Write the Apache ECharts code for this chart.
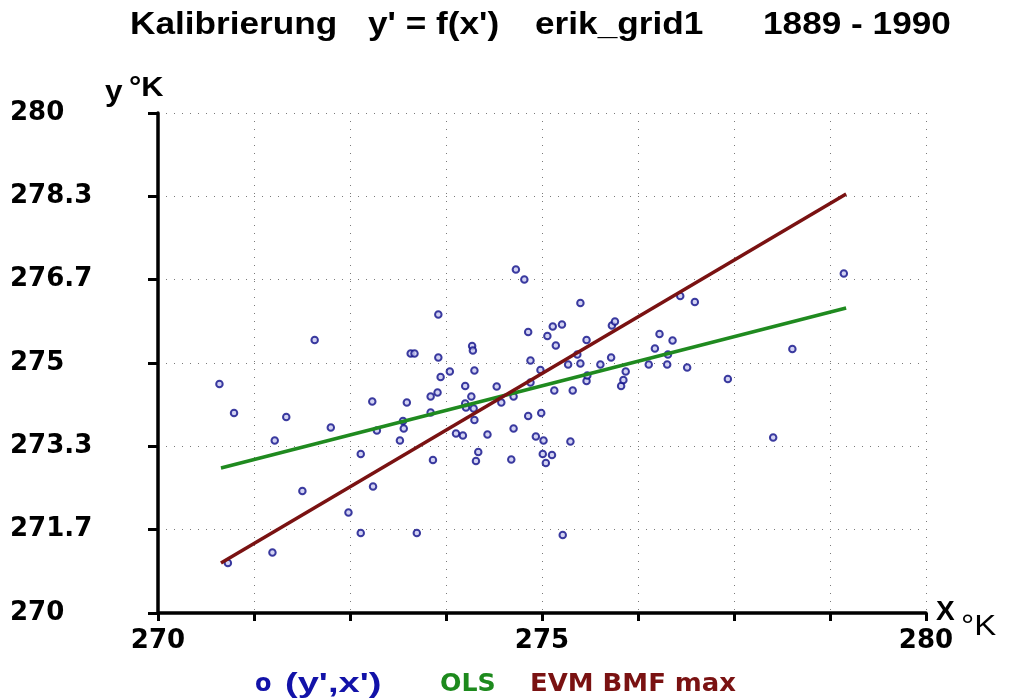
<!DOCTYPE html>
<html><head><meta charset="utf-8">
<script src="https://cdn.jsdelivr.net/npm/echarts@6/dist/echarts.min.js"></script>
<style>html,body{margin:0;padding:0;background:#fff}#c{width:1009px;height:700px}</style>
</head><body><div id="c"></div>
<script>
const titleParts = ["Kalibrierung", "y' = f(x')", "erik_grid1", "1889 - 1990"];
const xTickLabels = ['270', '275', '280'];
const yTickLabels = ['270', '271.7', '273.3', '275', '276.7', '278.3', '280'];
const legendLabels = ["o", "(y',x')", "OLS", "EVM BMF max"];

const pointX = [270.80,270.99,271.52,271.67,271.49,270.91,271.88,272.04,272.25,272.48,
  272.64,272.64,272.79,272.80,272.85,273.15,273.19,273.20,273.24,273.29,
  273.34,273.37,273.55,273.55,273.58,273.64,273.65,273.65,273.68,273.80,
  273.88,273.97,274.00,274.00,274.01,274.08,274.09,274.10,274.11,274.12,
  274.12,274.14,274.17,274.29,274.41,274.47,274.60,274.63,274.63,274.66,
  274.77,274.82,274.82,274.85,274.85,274.92,274.98,274.99,275.01,275.02,
  275.05,275.07,275.13,275.14,275.16,275.18,275.26,275.27,275.34,275.37,
  275.40,275.46,275.50,275.50,275.58,275.58,275.59,275.76,275.90,275.91,
  275.95,276.03,276.06,276.09,276.39,276.47,276.53,276.63,276.64,276.70,
  276.80,276.89,276.99,277.42,278.01,278.26,278.93];
const pointY = [274.58,274.00,273.45,273.92,271.21,271.00,272.44,275.46,273.71,272.01,
  271.60,273.18,274.23,272.53,273.65,273.45,273.84,273.69,274.21,275.19,
  275.19,271.60,274.33,274.01,273.06,274.41,275.97,275.11,274.72,274.83,
  273.59,273.55,274.54,274.19,274.11,274.33,275.34,275.25,274.09,274.85,
  273.86,273.04,273.22,273.57,274.53,274.21,273.07,274.33,273.69,276.87,
  276.67,275.62,273.94,275.05,274.61,273.53,274.86,274.00,273.18,273.45,
  273.00,275.54,273.16,275.73,274.45,275.35,275.77,271.56,274.97,273.43,
  274.45,275.17,276.20,274.99,275.46,274.64,274.75,274.97,275.11,275.75,
  275.83,274.54,274.66,274.83,274.97,275.29,275.58,274.97,275.17,275.45,
  276.34,274.91,276.22,274.68,273.51,275.28,276.79];
const olsX = [270.82, 278.96];
const olsY = [272.90, 276.10];
const evmX = [270.82, 278.96];
const evmY = [271.00, 278.38];

const zip = (a, b) => a.map((v, i) => [v, b[i]]);
const chart = echarts.init(document.getElementById('c'));
const heavy = 'DejaVu Sans';
const arial = "'Liberation Sans', Arial, sans-serif";
const grid = {type: [1, 7], color: '#7a7a7a', width: 1};
const txt = (x, y, text, fill, font, sx) => ({type: 'text', x: x, y: y, scaleX: sx || 1,
  style: {text: text, fill: fill, font: font}});

chart.setOption({
  animation: false,
  backgroundColor: '#fff',
  grid: {left: 158, right: 83, top: 113, bottom: 87, containLabel: false},
  xAxis: {
    type: 'value', min: 270, max: 280, interval: 1.25,
    axisLine: {show: true, onZero: false, lineStyle: {color: '#000', width: 3.5}},
    axisTick: {show: true, length: 8, lineStyle: {color: '#000', width: 3}},
    splitLine: {show: true, lineStyle: grid},
    axisLabel: {
      margin: 15, color: '#000', fontSize: 26, fontWeight: 'bold', fontFamily: heavy,
      showMinLabel: true, showMaxLabel: true,
      formatter: v => { const k = Math.round((v - 270) / 5); return Math.abs(v - 270 - 5 * k) < 1e-6 ? xTickLabels[k] : ''; }
    }
  },
  yAxis: {
    type: 'value', min: 270, max: 280, interval: 10 / 6,
    axisLine: {show: true, onZero: false, lineStyle: {color: '#000', width: 3.5}},
    axisTick: {show: true, length: 10, lineStyle: {color: '#000', width: 3}},
    splitLine: {show: true, lineStyle: grid},
    axisLabel: {
      margin: 148, align: 'left', color: '#000', fontSize: 26, fontWeight: 'bold', fontFamily: heavy,
      padding: [6, 0, 0, 0],
      showMinLabel: true, showMaxLabel: true,
      formatter: v => yTickLabels[Math.round((v - 270) / (10 / 6))]
    }
  },
  series: [
    {type: 'scatter', data: zip(pointX, pointY), symbol: 'circle', symbolSize: 6.5,
     itemStyle: {color: '#c8c8f0', borderColor: '#0e0e88', borderWidth: 2}, z: 3},
    {type: 'line', data: zip(olsX, olsY), showSymbol: false, symbol: 'none',
     lineStyle: {color: '#1f8a1f', width: 3.5}, z: 4},
    {type: 'line', data: zip(evmX, evmY), showSymbol: false, symbol: 'none',
     lineStyle: {color: '#7a1212', width: 3.5}, z: 5}
  ],
  graphic: [
    txt(130, 9, titleParts[0], '#000', 'bold 32px ' + arial, 1.1),
    txt(368, 9, titleParts[1], '#000', 'bold 32px ' + arial, 1.1),
    txt(535, 9, titleParts[2], '#000', 'bold 32px ' + arial, 1.1),
    txt(763, 9, titleParts[3], '#000', 'bold 32px ' + arial, 1.1),
    txt(105, 78, 'y', '#000', 'bold 30px ' + arial, 1.05),
    txt(129, 74, '°K', '#000', 'bold 28px ' + arial, 1.1),
    txt(936, 598, 'X', '#000', 'bold 28px ' + arial, 1),
    txt(961, 612, '°K', '#000', '30px ' + arial, 1.1),
    txt(255, 673, legendLabels[0], '#1212a8', 'bold 24px ' + heavy, 1),
    txt(285, 670, legendLabels[1], '#1212a8', 'bold 28px ' + arial, 1.36),
    txt(440, 673, legendLabels[2], '#1d8a1d', 'bold 24px ' + heavy, 1.05),
    txt(530, 673, legendLabels[3], '#7a1212', 'bold 24px ' + heavy, 1.08)
  ]
});
</script></body></html>
